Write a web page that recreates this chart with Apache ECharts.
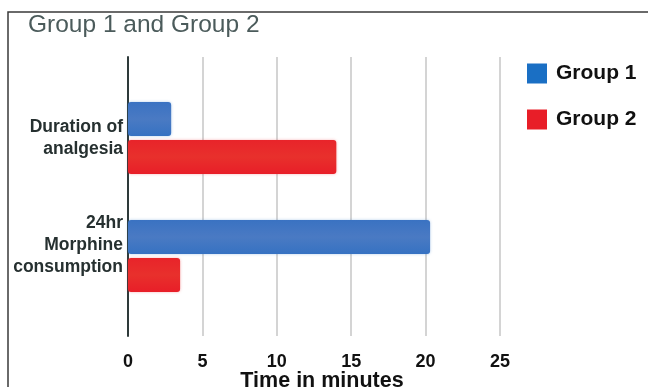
<!DOCTYPE html>
<html>
<head>
<meta charset="utf-8">
<script src="https://cdn.jsdelivr.net/npm/echarts@6/dist/echarts.min.js"></script>
<style>
html,body{margin:0;padding:0;background:#fff;}
#chart{width:650px;height:387px;}
</style>
</head>
<body>
<div id="chart"></div>
<script>
var categories = ['Duration of\nanalgesia', '24hr\nMorphine\nconsumption\n'];
var group1 = [2.9, 20.3];
var group2 = [14.0, 3.5];
var seriesNames = ['Group 1', 'Group 2'];
var xTicks = { min: 0, max: 25, interval: 5 };

var chart = echarts.init(document.getElementById('chart'));
var blue = new echarts.graphic.LinearGradient(0, 0, 0, 1, [
  { offset: 0, color: '#3a72c2' }, { offset: 0.5, color: '#4a7ac3' }, { offset: 1, color: '#3672c2' }
]);
var red = new echarts.graphic.LinearGradient(0, 0, 0, 1, [
  { offset: 0, color: '#e8242a' }, { offset: 0.5, color: '#e8302c' }, { offset: 1, color: '#e81e28' }
]);
var option = {
  animation: false,
  title: {
    text: 'Group 1 and Group 2',
    left: 23, top: 8,
    textStyle: { fontFamily: 'Liberation Sans', fontSize: 24.5, fontWeight: 'normal', color: '#4b5b5b' }
  },
  legend: {
    orient: 'vertical',
    left: 522, top: 58,
    itemWidth: 20, itemHeight: 20, itemGap: 25,
    icon: 'rect',
    data: [
      { name: seriesNames[0], itemStyle: { color: '#1a6fc4' } },
      { name: seriesNames[1], itemStyle: { color: '#e81e28' } }
    ],
    textStyle: { fontFamily: 'Liberation Sans', fontSize: 21, fontWeight: 'bold', color: '#111', padding: [6, 0, 0, 4] }
  },
  graphic: [
    { type: 'polyline', shape: { points: [[8, 387], [8, 12], [648, 12]] }, style: { stroke: '#3a3a3a', lineWidth: 1.5, fill: null } }
  ],
  grid: [
    { left: 128, right: 150, top: 79, height: 236, outerBoundsMode: 'none', containLabel: false },
    { left: 128, right: 150, top: 57, height: 279, outerBoundsMode: 'none', containLabel: false }
  ],
  xAxis: [
    { type: 'value', gridIndex: 0, min: xTicks.min, max: xTicks.max, interval: xTicks.interval, show: false },
    {
      type: 'value', gridIndex: 1, min: xTicks.min, max: xTicks.max, interval: xTicks.interval,
      axisLine: { show: false }, axisTick: { show: false },
      splitLine: { show: true, lineStyle: { color: '#d4d4d4', width: 2 } },
      axisLabel: { margin: 17, fontFamily: 'Liberation Sans', fontSize: 18, fontWeight: 'bold', color: '#111' },
      name: 'Time in minutes', nameLocation: 'middle', nameGap: 34, nameMoveOverlap: false,
      nameTextStyle: { fontFamily: 'Liberation Sans', fontSize: 21.5, fontWeight: 'bold', color: '#111', padding: [0, 0, 0, 16] }
    }
  ],
  yAxis: [
    {
      type: 'category', gridIndex: 0, inverse: true,
      data: categories,
      axisLine: { show: false }, axisTick: { show: false },
      axisLabel: { margin: 5, fontFamily: 'Liberation Sans', fontSize: 17.5, fontWeight: 'bold', color: '#263030', lineHeight: 22, align: 'right' }
    },
    {
      type: 'value', gridIndex: 1, min: 0, max: 1,
      axisLine: { show: true, lineStyle: { color: '#2e3a3a', width: 2 } },
      axisTick: { show: false }, axisLabel: { show: false }, splitLine: { show: false }
    }
  ],
  series: [
    { name: seriesNames[0], type: 'bar', xAxisIndex: 0, yAxisIndex: 0, data: group1, barWidth: 34, barGap: '11.8%',
      itemStyle: { color: blue, borderRadius: 3, shadowBlur: 3, shadowColor: 'rgba(30,110,196,0.35)' } },
    { name: seriesNames[1], type: 'bar', xAxisIndex: 0, yAxisIndex: 0, data: group2, barWidth: 34, barGap: '11.8%',
      itemStyle: { color: red, borderRadius: 3, shadowBlur: 3, shadowColor: 'rgba(232,30,40,0.35)' } }
  ]
};
chart.setOption(option);
</script>
</body>
</html>
